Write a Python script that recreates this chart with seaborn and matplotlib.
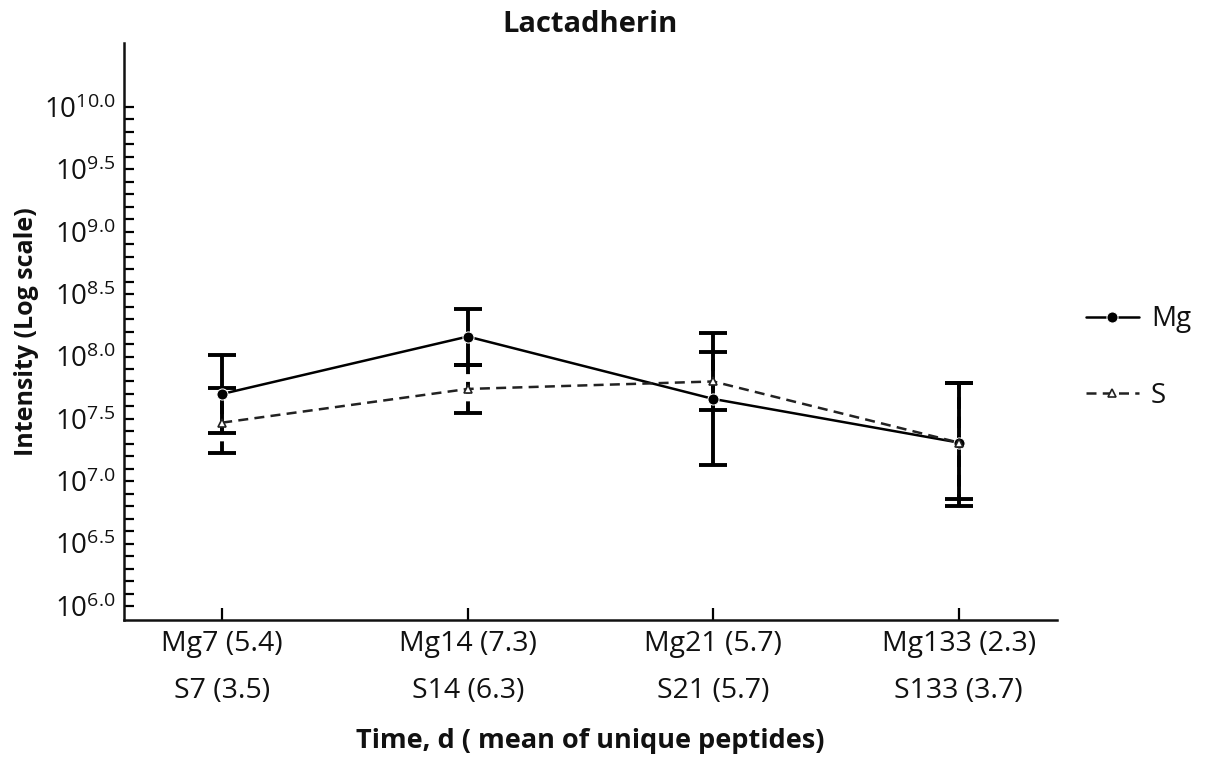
import numpy as np
import pandas as pd
import matplotlib
matplotlib.use("Agg")
import matplotlib.pyplot as plt
import seaborn as sns
from matplotlib.ticker import FixedLocator, FuncFormatter

# ---- data (log10 intensity) ----
mg_labels = ["Mg7 (5.4)", "Mg14 (7.3)", "Mg21 (5.7)", "Mg133 (2.3)"]
s_labels = ["S7 (3.5)", "S14 (6.3)", "S21 (5.7)", "S133 (3.7)"]
mg_log = [7.70, 8.16, 7.66, 7.31]
mg_log_low = [7.39, 7.93, 7.13, 6.86]
mg_log_high = [8.01, 8.38, 8.19, 7.79]
s_log = [7.47, 7.74, 7.80, 7.31]
s_log_low = [7.23, 7.55, 7.57, 6.80]
s_log_high = [7.75, 7.93, 8.04, 7.79]
series_names = ["Mg", "S"]
title = "Lactadherin"
xlabel = "Time, d ( mean of unique peptides)"
ylabel = "Intensity (Log scale)"
ytick_exps = [6.0, 6.5, 7.0, 7.5, 8.0, 8.5, 9.0, 9.5, 10.0]

sns.set_theme(style="white")
plt.rcParams["font.family"] = ["Open Sans", "DejaVu Sans"]
plt.rcParams["mathtext.default"] = "regular"

pos = np.arange(len(mg_labels))
df = pd.DataFrame({
    "pos": np.concatenate([pos, pos]),
    "value": np.concatenate([10 ** np.array(mg_log), 10 ** np.array(s_log)]),
    "group": ["Mg"] * len(pos) + ["S"] * len(pos),
})

fig = plt.figure(figsize=(12.11, 7.64), dpi=100)
ax = fig.add_axes([0.1024, 0.1885, 0.7704, 0.7552])
ax.set_yscale("log")

txt = "#111111"

# error bars
err_specs = [(mg_log, mg_log_low, mg_log_high, "-"), (s_log, s_log_low, s_log_high, "--")]
for vals, lo, hi, ls in err_specs:
    v = 10 ** np.array(vals)
    yerr = np.vstack([v - 10 ** np.array(lo), 10 ** np.array(hi) - v])
    eb = ax.errorbar(pos, v, yerr=yerr, fmt="none", ecolor="black",
                     elinewidth=2.8, capsize=10, capthick=2.8, zorder=2)
    if ls == "--":
        eb[2][0].set_linestyle((0, (3, 2)))

sns.lineplot(data=df, x="pos", y="value", hue="group", style="group",
             palette={"Mg": "black", "S": "#222222"},
             markers={"Mg": "o", "S": "^"},
             dashes={"Mg": "", "S": (4, 2.5)},
             markersize=8, linewidth=1.8, ax=ax, legend=True, zorder=3)

for ln in ax.lines:
    if ln.get_marker() == "^":
        ln.set_markerfacecolor("white")
        ln.set_markeredgecolor("#222222")
        ln.set_markersize(6)
        ln.set_markeredgewidth(1.2)

ax.set_xlim(-0.4, 3.4)
ax.set_ylim(10 ** 5.888, 10 ** 10.513)

ax.yaxis.set_major_locator(FixedLocator([10 ** e for e in ytick_exps]))
ax.yaxis.set_major_formatter(FuncFormatter(lambda v, p: r"$10^{%.1f}$" % np.log10(v)))
minor = [10 ** (6 + 0.1 * k) for k in range(0, 41)]
ax.yaxis.set_minor_locator(FixedLocator(minor))
ax.yaxis.set_minor_formatter(FuncFormatter(lambda v, p: ""))

ax.set_xticks(pos)
ax.set_xticklabels([f"{m}\n{s}" for m, s in zip(mg_labels, s_labels)],
                   linespacing=1.9)

ax.tick_params(axis="y", which="both", direction="in", length=7, width=1.6,
               left=True, labelsize=20, colors="black", labelcolor=txt, pad=6)
ax.tick_params(axis="x", which="major", direction="in", length=9, width=1.6,
               bottom=True, labelsize=20.5, colors="black", labelcolor=txt, pad=7)

for side in ["top", "right"]:
    ax.spines[side].set_visible(False)
for side in ["left", "bottom"]:
    ax.spines[side].set_color("#111111")
    ax.spines[side].set_linewidth(1.8)

ax.set_title(title, fontsize=21, fontweight="bold", color=txt, pad=8)
ax.set_xlabel(xlabel, fontsize=19.5, fontweight="bold", color=txt, labelpad=17)
ax.set_ylabel(ylabel, fontsize=18, fontweight="bold", color=txt, labelpad=4)

handles, labels = ax.get_legend_handles_labels()
leg = ax.legend(handles, labels, loc="center left", bbox_to_anchor=(0.876, 0.532),
                bbox_transform=fig.transFigure, frameon=False, fontsize=20,
                handlelength=1.9, labelspacing=1.75, handletextpad=0.45)
for t in leg.get_texts():
    t.set_color(txt)

fig.savefig("out.png", dpi=100)
